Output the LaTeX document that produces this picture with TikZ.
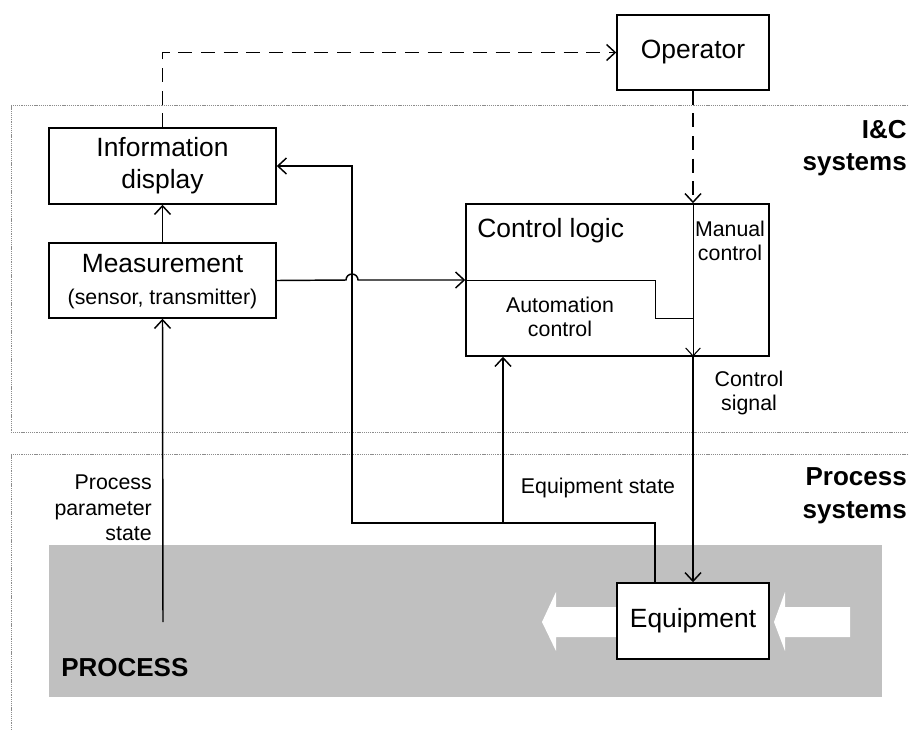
\documentclass[tikz,border=0pt]{standalone}
\usepackage{fontspec}
\setmainfont{Liberation Sans}
\usetikzlibrary{arrows.meta}
\definecolor{procgray}{RGB}{192,192,192}
\definecolor{regiongray}{RGB}{140,140,140}
\begin{document}
\begin{tikzpicture}[x=0.75pt,y=-0.75pt,
  box/.style={draw, line width=1.1pt, fill=white, inner sep=0pt, align=center},
  big/.style={font=\fontsize{19.8}{24}\selectfont},
  small/.style={font=\fontsize{16}{18}\selectfont},
  bigbold/.style={font=\fontsize{19.5}{24.5}\selectfont\bfseries},
  lbl/.style={inner sep=0pt, align=center},
  conn/.style={line width=1.1pt, -{Straight Barb[length=6.5pt,width=12pt,line width=1.1pt]}},
  thinconn/.style={line width=0.7pt, -{Straight Barb[length=6pt,width=11pt,line width=0.8pt]}},
  thinline/.style={line width=0.7pt},
  dashline/.style={dash pattern=on 10.5pt off 6.5pt},
  region/.style={draw=regiongray, line width=0.6pt, dash pattern=on 0.8pt off 0.6pt},
  whitearrow/.style={fill=white, draw=none}
]
\useasboundingbox (0,0) rectangle (909,729);
% regions
\draw[region] (912,105) -- (11,105) -- (11,432) -- (912,432);
\draw[region] (912,454) -- (11,454) -- (11,732);
% process band
\fill[procgray] (49,545) rectangle (882,697);
% flow arrows
\fill[whitearrow] (542,622) -- (556,592) -- (556,607) -- (640,607) -- (640,637) -- (556,637) -- (556,651) -- cycle;
\fill[whitearrow] (774,622) -- (785,592) -- (785,607) -- (850,607) -- (850,637) -- (785,637) -- (785,651) -- cycle;
% boxes
\node[box, big, minimum width=227*0.75pt, minimum height=76*0.75pt] (info) at (162.5,166) {Information\\display};
\node[box, minimum width=227*0.75pt, minimum height=75*0.75pt] (meas) at (162.5,280.5) {};
\node[lbl, big] (meast) at (162.5,264) {Measurement};
\node[lbl, small] (measb) at (162.5,299) {(sensor, transmitter)};
\node[box, big, minimum width=152*0.75pt, minimum height=75*0.75pt] (oper) at (693,52.5) {Operator};
\node[box, minimum width=303*0.75pt, minimum height=152*0.75pt] (ctrl) at (617.5,280) {};
\node[box, big, minimum width=152*0.75pt, minimum height=76*0.75pt] (equip) at (693,621) {Equipment};
% labels inside control logic
\node[lbl, big, anchor=west] (ctrlt) at (477,231) {Control logic};
\node[lbl, small] (manual) at (730,241) {Manual\\control};
\node[lbl, small] (auto) at (560,317) {Automation\\control};
% other labels
\node[lbl, small] (csig) at (749,393) {Control\\signal};
\node[lbl, small] (estate) at (598,488) {Equipment state};
\node[lbl, small, align=right, anchor=east, font=\fontsize{16}{19}\selectfont] (ppar) at (152,508) {Process\\parameter\\state};
\node[lbl, bigbold, anchor=west] (proc) at (61,668) {PROCESS};
\node[lbl, bigbold, align=right, anchor=east] (ic) at (907,148) {I\&C\\systems};
\node[lbl, bigbold, align=right, anchor=east] (ps) at (907,496) {Process\\systems};
% coordinates
\coordinate (mtop) at (oper.south |- ctrl.north);
\coordinate (mbot) at (oper.south |- ctrl.south);
\coordinate (pp) at (163,622);
\coordinate (es) at (655,583);
\coordinate (j) at (503,523);
% connectors
\draw[conn, dashline] (info.north) |- (oper.west);
\draw[conn, dashline] (oper.south) -- (mtop);
\draw[thinconn] (mtop) -- (mbot);
\draw[conn] (mbot) -- (equip.north);
\draw[conn] (meas.north) -- (info.south);
\draw[conn] (pp) -- (meas.south);
\draw[conn] (meas.east) -- (346,280) arc[start angle=180, end angle=360, radius=6] -- (ctrl.west);
\draw[conn] (es) -- (655,523) -- (352,523) |- (info.east);
\draw[conn] (j) -- (j |- ctrl.south);
\draw[thinline] (ctrl.west) -- (655,280) -- (655,318) -- (mtop |- 0,318);
\end{tikzpicture}
\end{document}
